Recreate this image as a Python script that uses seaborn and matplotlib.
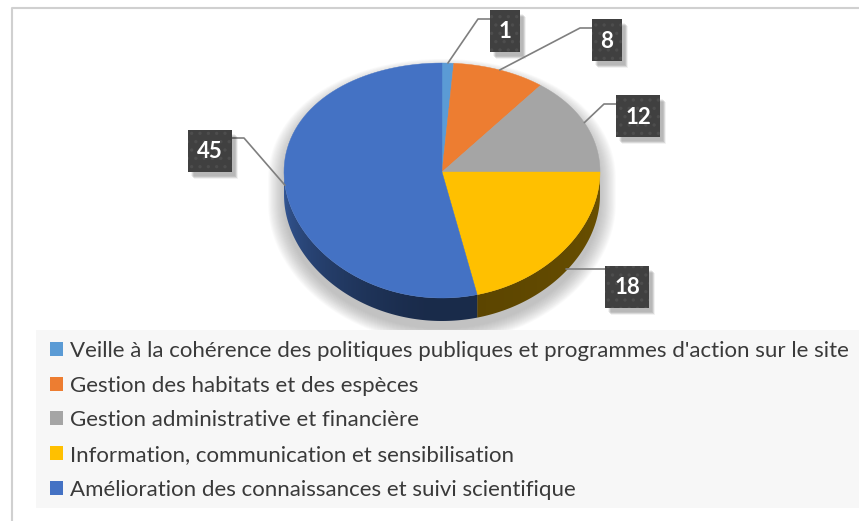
import numpy as np
import seaborn as sns
import matplotlib.pyplot as plt
from matplotlib.patches import Rectangle, Patch, Polygon


# data
categories = [
    "Veille à la cohérence des politiques publiques et programmes d'action sur le site",
    "Gestion des habitats et des espèces",
    "Gestion administrative et financière",
    "Information, communication et sensibilisation",
    "Amélioration des connaissances et suivi scientifique",
]
values = [1, 8, 12, 18, 45]
colors = ["#5b9bd5", "#ed7d31", "#a5a5a5", "#ffc000", "#4472c4"]
# label box centres (pixels), one per slice
label_pos = [(505, 31), (607, 40), (638, 116), (627, 287), (210, 151)]

# pie geometry (pixels)
cx, cy = 442, 172
rx, ry, persp = 158, 117.5, 8.5
depth = 23


def proj(theta, r=1.0, dz=0.0):
    t = np.radians(theta)
    u = r * np.sin(t)
    v = -r * np.cos(t)
    return cx + rx * u, cy + ry * v + persp * v ** 2 + dz


sns.set_theme(style="white")
plt.rcParams['font.family'] = ['Lato', 'DejaVu Sans']
pal = sns.color_palette(colors)

fig = plt.figure(figsize=(8.59, 5.21), dpi=100)
ax = fig.add_axes([0, 0, 1, 1])

# frame lines
ax.plot([12, 12, 859], [521, 8, 8], color='#d0d0d0', lw=1.5)

# soft shadow
top = np.linspace(-90, 90, 120)
bot = np.linspace(90, 270, 120)
sx = np.concatenate([proj(top)[0], proj(bot, dz=depth)[0]])
sy = np.concatenate([proj(top)[1], proj(bot, dz=depth)[1]])
mx, my = cx, cy + depth / 2
for s in np.linspace(1.0, 1.10, 16):
    ax.fill(mx + (sx - mx) * s, my + (sy - my) * s + 8, color='#808080',
            alpha=0.035, lw=0, zorder=1)

# angles
total = sum(values)
edges = np.concatenate([[0], np.cumsum(values) / total * 360])

# side walls, shaded along x
xs = np.linspace(cx - rx, cx + rx, 400)
theta_x = 180 - np.degrees(np.arcsin(np.clip((xs - cx) / rx, -1, 1)))
for i in range(len(values)):
    a0, a1 = max(edges[i], 90), min(edges[i + 1], 270)
    if a1 <= a0:
        continue
    base = np.array(pal[i])
    if i == 3:
        f = 0.42 - 0.06 * np.clip((theta_x - 90) / 80, 0, 1)
    else:
        f = 0.38 + 0.40 * np.clip((theta_x - 185) / 85, 0, 1) ** 1.3
    img = (base[None, :] * f[:, None])[None, :, :]
    t = np.linspace(a0, a1, 100)
    px, py = proj(t)
    poly = Polygon(np.c_[np.r_[px, px[::-1]], np.r_[py, py[::-1] + depth]],
                   closed=True, fc='none', lw=0)
    ax.add_patch(poly)
    im = ax.imshow(img, extent=(cx - rx, cx + rx, cy + ry + persp + depth + 2, cy - 5),
                   aspect='auto', interpolation='bilinear', zorder=2)
    im.set_clip_path(poly)

# top faces
for i in range(len(values)):
    t = np.linspace(edges[i], edges[i + 1], 80)
    px, py = proj(t)
    ax.fill(np.r_[cx, px], np.r_[cy, py], color=pal[i], lw=0.3, ec=pal[i], zorder=3)

# leader lines + label boxes
plt.rcParams['hatch.linewidth'] = 1.2
for i, v in enumerate(values):
    mid = (edges[i] + edges[i + 1]) / 2
    ex, ey = proj(mid)
    if 90 < mid < 180:
        ey += depth * 0.9
    bx, by = label_pos[i]
    w = 30 if v < 10 else 44
    h = 42
    side = -1 if bx > ex else 1
    edge_x = bx + side * w / 2
    knee_x = edge_x + side * 12 if i != 3 else edge_x
    ky = by - 12 if i < 3 else ey
    if i == 4:
        ky = by - 13
    ax.plot([ex, knee_x, edge_x], [ey, ky, ky], color='#7f7f7f', lw=1.2, zorder=4)
    for k in range(6):
        ax.add_patch(Rectangle((bx - w / 2 + 3 + k * 0.6, by - h / 2 + 4 + k * 0.6),
                               w, h, color='#000000', alpha=0.05, lw=0, zorder=4))
    ax.add_patch(Rectangle((bx - w / 2, by - h / 2), w, h, facecolor='#404040',
                           edgecolor='#4d4d4d', hatch='..', lw=0, zorder=5))
    ax.text(bx, by + 1, str(v), color='white', fontsize=16, fontweight='bold',
            ha='center', va='center', zorder=6)

# legend
ax.add_patch(Rectangle((36, 330), 830, 178, color='#f7f7f7', lw=0, zorder=1))
handles = [Patch(facecolor=pal[i], edgecolor='none') for i in range(len(values))]
leg = ax.legend(handles, categories, loc='upper left', bbox_to_anchor=(41 / 859, 1 - 332 / 521),
                frameon=False, fontsize=16, labelcolor='#3a3a3a', handlelength=0.6,
                handleheight=0.6, handletextpad=0.3, labelspacing=0.66, borderaxespad=0)

ax.set_xlim(0, 859)
ax.set_ylim(521, 0)
ax.axis('off')

fig.savefig('out.png', dpi=100)
